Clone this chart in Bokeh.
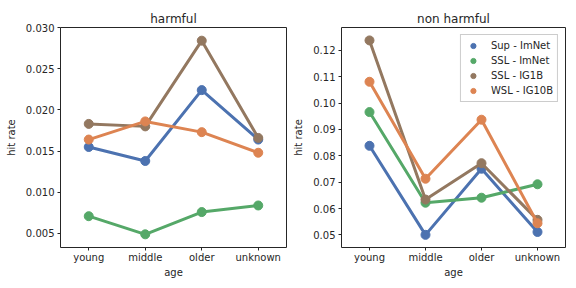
from bokeh.plotting import figure
from bokeh.layouts import row
from bokeh.models import FactorRange, Range1d, FixedTicker, PrintfTickFormatter, Legend, LegendItem
from bokeh.embed import file_html
from bokeh.resources import INLINE

ages = ["young", "middle", "older", "unknown"]
models = ["Sup - ImNet", "SSL - ImNet", "SSL - IG1B", "WSL - IG10B"]
colors = ["#4C72B0", "#55A868", "#937860", "#DD8452"]

harmful = {
    "Sup - ImNet": [0.0155, 0.0138, 0.0224, 0.0164],
    "SSL - ImNet": [0.0071, 0.0049, 0.0076, 0.0084],
    "SSL - IG1B": [0.0183, 0.0180, 0.0284, 0.0166],
    "WSL - IG10B": [0.0164, 0.0186, 0.0173, 0.0148],
}
non_harmful = {
    "Sup - ImNet": [0.0838, 0.0500, 0.0751, 0.0511],
    "SSL - ImNet": [0.0966, 0.0622, 0.0641, 0.0692],
    "SSL - IG1B": [0.1238, 0.0634, 0.0772, 0.0557],
    "WSL - IG10B": [0.1081, 0.0713, 0.0937, 0.0544],
}
harmful_ticks = [0.005, 0.010, 0.015, 0.020, 0.025, 0.030]
non_harmful_ticks = [0.05, 0.06, 0.07, 0.08, 0.09, 0.10, 0.11, 0.12]

FONT = "DejaVu Sans"
TXT = "#262626"


def make(title, data, yr, ticks, fmt, width, bl, br, legend=False):
    p = figure(width=width, height=286, x_range=FactorRange(*ages),
               y_range=Range1d(*yr), output_backend="svg", toolbar_location=None,
               min_border_left=bl, min_border_right=br, min_border_top=27,
               min_border_bottom=39, title=title)
    p.title.align = "center"
    p.title.text_font = FONT
    p.title.text_font_size = "12px"
    p.title.text_font_style = "normal"
    p.title.text_color = TXT
    p.title.standoff = 4
    p.xgrid.visible = False
    p.ygrid.visible = False
    p.outline_line_color = "#262626"
    p.outline_line_width = 1
    p.background_fill_color = "white"
    p.border_fill_color = "white"
    for ax in (p.xaxis[0], p.yaxis[0]):
        ax.axis_line_color = None
        ax.major_tick_line_color = TXT
        ax.major_tick_out = 3
        ax.major_tick_in = 0
        ax.minor_tick_line_color = None
        ax.major_label_text_font = FONT
        ax.major_label_text_font_size = "10px"
        ax.major_label_text_color = TXT
        ax.axis_label_text_font = FONT
        ax.axis_label_text_font_size = "10px"
        ax.axis_label_text_font_style = "normal"
        ax.axis_label_text_color = TXT
    p.xaxis.major_label_standoff = 1
    p.xaxis.axis_label_standoff = 1
    p.yaxis.major_label_standoff = 3
    p.yaxis.axis_label_standoff = 6
    p.xaxis.axis_label = "age"
    p.yaxis.axis_label = "hit rate"
    p.yaxis.ticker = FixedTicker(ticks=ticks)
    p.yaxis.formatter = PrintfTickFormatter(format=fmt)
    items = []
    for m, c in zip(models, colors):
        p.line(ages, data[m], line_color=c, line_width=3)
        r = p.scatter(ages, data[m], size=9, fill_color=c, line_color=c)
        items.append(LegendItem(label=m, renderers=[r]))
    if legend:
        lg = Legend(items=items, location="top_right", label_text_font=FONT,
                    label_text_font_size="10px", label_text_color=TXT,
                    border_line_color="#cccccc", border_line_alpha=1,
                    background_fill_alpha=0.8, glyph_width=16, glyph_height=13,
                    label_height=13, spacing=2, padding=4, margin=7,
                    label_standoff=10)
        p.add_layout(lg)
    return p


p1 = make("harmful", harmful, (0.0033, 0.030), harmful_ticks, "%.3f", 290, 60, 4)
p2 = make("non harmful", non_harmful, (0.0452, 0.1287), non_harmful_ticks, "%.2f", 284, 50, 9, legend=True)

p = row(p1, p2)
open("out.html", "w").write(file_html(p, INLINE))
